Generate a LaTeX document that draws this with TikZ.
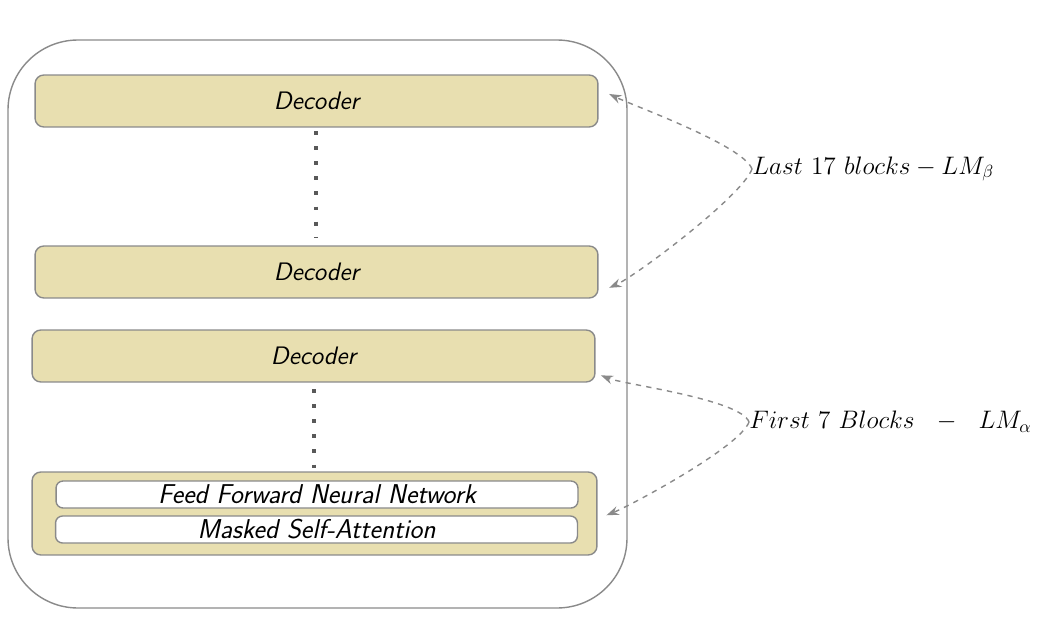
\documentclass[tikz,border=0pt]{standalone}
\usepackage{amsmath}
\usepackage{tikz}
\usetikzlibrary{arrows.meta}
\definecolor{blockfill}{HTML}{E8DFB0}
\definecolor{edgegray}{HTML}{8A8A8A}

\begin{document}
\begin{tikzpicture}[x=0.02cm, y=0.02cm,
    block/.style = {draw=edgegray, thick, rounded corners=5pt, fill=blockfill, minimum width=11.26cm, minimum height=1.04cm, font=\Large\sffamily\itshape},
    layer/.style = {draw=edgegray, thick, rounded corners=4pt, fill=white, minimum width=10.44cm, minimum height=0.54cm, inner sep=0pt, font=\fontsize{15.5}{18}\selectfont\sffamily\itshape},
    dots/.style = {draw=black!65, line width=2.2pt, dash pattern=on 2.2pt off 6.4pt},
    span/.style = {draw=edgegray, thick, dashed, -{Stealth[length=7pt, width=5pt]}},
    tag/.style = {anchor=west, inner sep=0pt, font=\Large}]

    \useasboundingbox (0,0) rectangle (1048,620);

    \draw[edgegray, thick, rounded corners=1.4cm] (8,12) rectangle (627,580);

    \node [block] (dec1) at (316.5, 519) {Decoder};
    \node [block] (dec2) at (316.5, 348) {Decoder};
    \node [block] (dec3) at (313.5, 264) {Decoder};
    \node [block, minimum width=11.3cm, minimum height=1.66cm] (first) at (314.5, 106.5) {};
    \node [layer] (ffn) at (317, 125.5) {Feed Forward Neural Network};
    \node [layer] (msa) at (316.5, 90.5) {Masked Self-Attention};

    \draw[dots] (316, 489) -- (316, 383);
    \draw[dots] (314, 231) -- (314, 150);

    \node [tag] (last) at (752, 451) {$Last\ 17\ blocks - LM_{\beta}$};
    \node [tag] (firstlbl) at (749, 198) {$First\ 7\ Blocks\ \ -\ \ LM_{\alpha}$};

    \draw[span] (last.west) to[out=110, in=-26, looseness=0.4] ([xshift=6pt, yshift=4pt]dec1.east);
    \draw[span] (last.west) to[out=-110, in=24, looseness=0.4] ([xshift=6pt, yshift=-9pt]dec2.east);
    \draw[span] (firstlbl.west) to[out=110, in=-22, looseness=0.4] ([xshift=3pt, yshift=-11pt]dec3.east);
    \draw[span] (firstlbl.west) to[out=-110, in=22, looseness=0.4] ([xshift=5pt, yshift=-1pt]first.east);

\end{tikzpicture}
\end{document}
